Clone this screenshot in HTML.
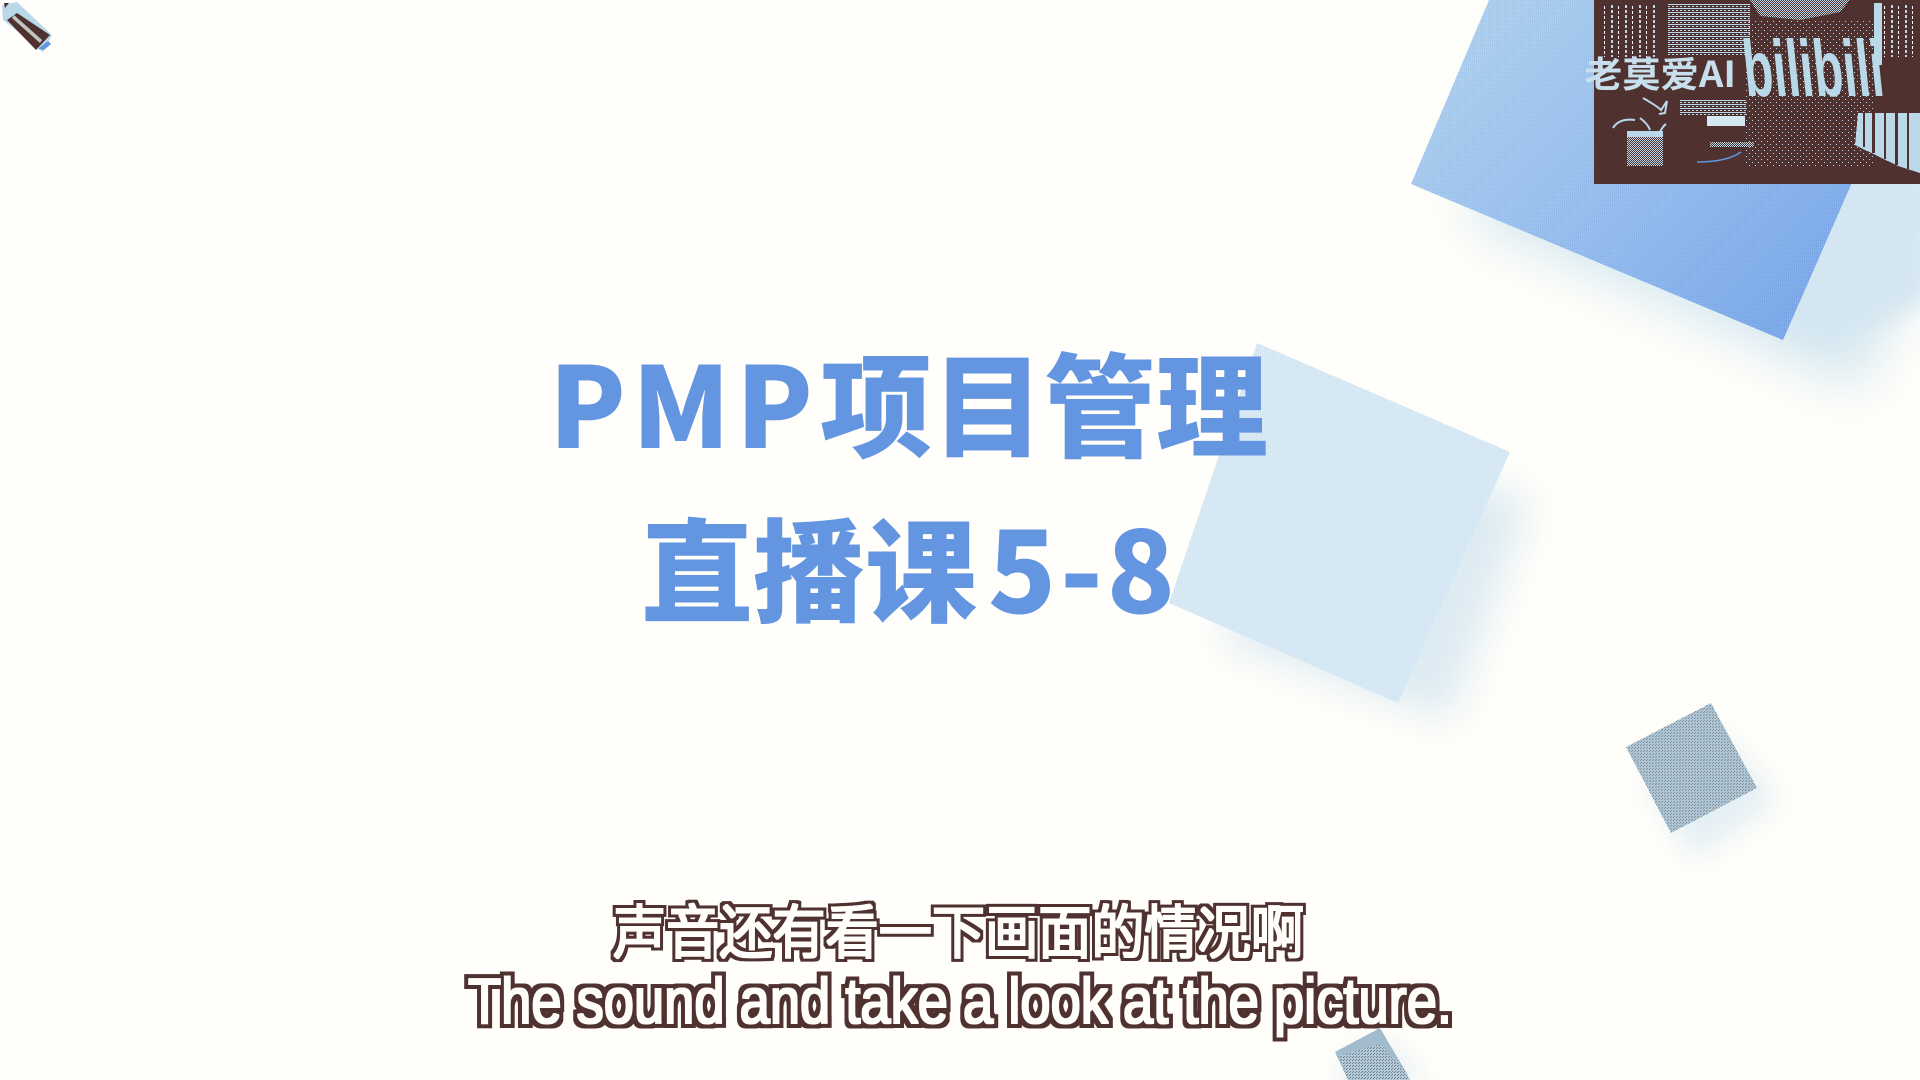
<!DOCTYPE html>
<html lang="zh">
<head>
<meta charset="utf-8">
<title>PMP项目管理 直播课5-8</title>
<style>
html,body{margin:0;padding:0;width:1920px;height:1080px;overflow:hidden;background:#fffefa}
svg{display:block}
.title-cjk{font-family:"Noto Sans CJK SC","Liberation Sans",sans-serif;font-weight:900;fill:#6495e0}
.sub{fill:#fffefa}
</style>
</head>
<body>
<svg width="1920" height="1080" viewBox="0 0 1920 1080" shape-rendering="crispEdges">
<defs>
  <pattern id="p-light" width="2" height="2" patternUnits="userSpaceOnUse">
    <rect x="0" y="0" width="1" height="2" fill="#b9d8e8"/>
  </pattern>
  <pattern id="p-check" width="2" height="2" patternUnits="userSpaceOnUse">
    <rect x="0" y="0" width="1" height="1" fill="#6495e0"/>
    <rect x="1" y="1" width="1" height="1" fill="#b9d8e8"/>
  </pattern>
  <pattern id="p-dark" width="3" height="3" patternUnits="userSpaceOnUse">
    <rect width="3" height="3" fill="#b9d8e8"/>
    <rect x="0" y="0" width="1" height="1" fill="#4f3230"/>
    <rect x="2" y="1" width="1" height="1" fill="#4f3230"/>
  </pattern>
  <pattern id="d50" width="2" height="2" patternUnits="userSpaceOnUse">
    <rect x="0" y="0" width="1" height="1" fill="#b9d8e8"/>
    <rect x="1" y="1" width="1" height="1" fill="#b9d8e8"/>
  </pattern>
  <pattern id="d10" width="6" height="6" patternUnits="userSpaceOnUse">
    <rect x="0" y="0" width="1" height="1" fill="#b9d8e8"/>
    <rect x="3" y="3" width="1" height="1" fill="#b9d8e8"/>
  </pattern>
  <pattern id="hstripe" width="4" height="4" patternUnits="userSpaceOnUse">
    <rect x="0" y="0" width="4" height="1" fill="#b9d8e8"/>
    <rect x="0" y="2" width="2" height="1" fill="#b9d8e8"/>
  </pattern>
  <pattern id="vstripe" width="14" height="5" patternUnits="userSpaceOnUse">
    <rect x="1" y="0" width="2" height="3" fill="#b9d8e8"/>
    <rect x="8" y="1" width="1" height="3" fill="#ffffff"/>
  </pattern>
  <linearGradient id="big-grad" gradientUnits="userSpaceOnUse" x1="1480" y1="40" x2="1790" y2="340">
    <stop offset="0" stop-color="#b0d0ea"/>
    <stop offset="0.5" stop-color="#96bdea"/>
    <stop offset="1" stop-color="#79a6e6"/>
  </linearGradient>
  <filter id="blur-big" x="-40%" y="-40%" width="180%" height="180%"><feGaussianBlur stdDeviation="26"/></filter>
  <filter id="blur-soft" x="-40%" y="-40%" width="180%" height="180%"><feGaussianBlur stdDeviation="12"/></filter>
  <filter id="blur-mid" x="-40%" y="-40%" width="180%" height="180%"><feGaussianBlur stdDeviation="20"/></filter>
  <filter id="blur-small" x="-60%" y="-60%" width="220%" height="220%"><feGaussianBlur stdDeviation="14"/></filter>
  <filter id="outline-en" x="-5%" y="-30%" width="110%" height="160%" color-interpolation-filters="sRGB">
    <feMorphology in="SourceAlpha" operator="dilate" radius="5" result="outer"/>
    <feFlood flood-color="#4f3230" result="brown"/>
    <feComposite in="brown" in2="outer" operator="in" result="ring"/>
    <feMorphology in="SourceAlpha" operator="dilate" radius="1" result="inner"/>
    <feFlood flood-color="#fffefa" result="white"/>
    <feComposite in="white" in2="inner" operator="in" result="core"/>
    <feMerge><feMergeNode in="ring"/><feMergeNode in="core"/></feMerge>
  </filter>
  <filter id="outline-zh" x="-5%" y="-30%" width="110%" height="160%" color-interpolation-filters="sRGB">
    <feMorphology in="SourceAlpha" operator="dilate" radius="4" result="outer"/>
    <feFlood flood-color="#4f3230" result="brown"/>
    <feComposite in="brown" in2="outer" operator="in" result="ring"/>
    <feMorphology in="SourceAlpha" operator="dilate" radius="1" result="inner"/>
    <feFlood flood-color="#fffefa" result="white"/>
    <feComposite in="white" in2="inner" operator="in" result="core"/>
    <feMerge><feMergeNode in="ring"/><feMergeNode in="core"/></feMerge>
  </filter>
</defs>

<rect width="1920" height="1080" fill="#fffefa"/>

<g shape-rendering="geometricPrecision">
  <polygon points="1510,30 1960,180 1860,390 1470,220" fill="#c6e0ee" opacity="0.75" filter="url(#blur-big)"/>
  <polygon points="1320,430 1530,500 1450,720 1220,640" fill="#cfe3ef" opacity="0.7" filter="url(#blur-mid)"/>
  <polygon points="1719,730 1779,800 1694,860 1644,780" fill="#cfe3ef" opacity="0.55" filter="url(#blur-small)"/>
  <polygon points="1385,1040 1430,1080 1345,1090 1340,1060" fill="#cfe3ef" opacity="0.5" filter="url(#blur-small)"/>
  <polygon points="1850,170 1930,170 1930,300 1830,340 1780,335" fill="#d4e6f1" filter="url(#blur-soft)"/>
</g>

<polygon points="1489,0 1411,184 1783,340 1932,0" fill="url(#big-grad)"/>
<polygon points="1489,0 1411,184 1783,340 1932,0" fill="url(#p-check)" opacity="0.25"/>

<polygon points="1257,343 1510,452 1398,703 1169,603" fill="#dcebf3"/>
<polygon points="1257,343 1510,452 1398,703 1169,603" fill="url(#p-light)" opacity="0.3"/>

<polygon points="1711,703 1757,788 1671,833 1626,747" fill="#a6bccd"/>
<polygon points="1711,703 1757,788 1671,833 1626,747" fill="url(#p-dark)" opacity="0.35"/>

<polygon points="1380,1028 1406,1072 1410,1080 1348,1080 1335,1052" fill="#a2bccd"/>
<polygon points="1380,1044 1406,1072 1410,1080 1348,1080 1338,1056" fill="url(#p-dark)" opacity="0.5"/>

<g shape-rendering="geometricPrecision">
  <polygon points="2,5 17,2 52,35 43,52 3,20" fill="#b9d8e8"/>
  <polygon points="17,13 50,35 36,50 7,20" fill="#4f3230"/>
  <polygon points="4,3 9,3 5,8" fill="#4f3230"/>
  <polygon points="14,15 42,40 40,43 12,18" fill="#dfeaea" opacity="0.8"/>
  <polygon points="48,41 51,44 44,50 38,49" fill="#6495e0"/>
</g>

<g>
  <rect x="1594" y="0" width="326" height="184" fill="#4f3230"/>
  <rect x="1600" y="5" width="60" height="52" fill="url(#vstripe)"/>
  <rect x="1668" y="3" width="82" height="52" fill="url(#hstripe)"/>
  <polygon points="1750,0 1850,0 1840,12 1800,20 1760,16" fill="url(#d50)"/>
  <rect x="1745" y="20" width="130" height="148" fill="url(#d10)"/>
  <rect x="1880" y="5" width="38" height="52" fill="url(#vstripe)"/>
  <rect x="1874" y="3" width="8" height="62" fill="#b9d8e8"/>
  <rect x="1680" y="100" width="66" height="15" fill="url(#hstripe)"/>
  <rect x="1627" y="131" width="36" height="35" fill="url(#d50)"/>
  <rect x="1627" y="131" width="36" height="6" fill="#b9d8e8"/>
  <g fill="none" stroke="#b9d8e8" stroke-width="2" shape-rendering="geometricPrecision">
    <path d="M1613 128 q6 -10 22 -8"/>
    <path d="M1640 118 q8 6 10 12"/>
    <path d="M1643 98 q14 8 18 12 l6 -9 l-2 12 l-6 1"/>
    <path d="M1660 132 q3 -6 6 -8"/>
  </g>
  <rect x="1707" y="116" width="38" height="10" fill="#d5e7f0"/>
  <rect x="1710" y="142" width="44" height="5" fill="url(#d50)"/>
  <path d="M1697 162 q30 0 44 -10" fill="none" stroke="#6495e0" stroke-width="1.5" shape-rendering="geometricPrecision"/>
  <polygon points="1858,113 1920,113 1920,173 1898,166 1855,145" fill="#b9d8e8"/>
  <g fill="#4f3230">
    <rect x="1863" y="113" width="2" height="34"/>
    <rect x="1872" y="113" width="3" height="40"/>
    <rect x="1884" y="113" width="2" height="46"/>
    <rect x="1895" y="113" width="3" height="52"/>
    <rect x="1907" y="113" width="2" height="56"/>
  </g>
  <text x="1584" y="87" font-family="'Noto Sans CJK SC','Liberation Sans',sans-serif" font-size="36" font-weight="700" fill="#c7dfec" textLength="152" lengthAdjust="spacingAndGlyphs">老莫爱AI</text>
  <text transform="translate(1746,96) skewX(6)" font-family="'Liberation Sans',sans-serif" font-size="80" font-weight="700" fill="#b9d8e8" textLength="140" lengthAdjust="spacingAndGlyphs">bilibili</text>
</g>

<g shape-rendering="geometricPrecision">
  <text class="title-cjk" x="549" y="448" font-size="112" textLength="264" lengthAdjust="spacing">PMP</text>
  <text class="title-cjk" x="820" y="448" font-size="112">项目管理</text>
  <text class="title-cjk" x="641" y="613" font-size="112">直播课</text>
  <text class="title-cjk" x="988" y="613" font-size="112" textLength="187" lengthAdjust="spacing">5-8</text>
</g>

<g shape-rendering="geometricPrecision">
  <text class="sub" x="613" y="953" filter="url(#outline-zh)" font-family="'Noto Sans CJK SC','Liberation Sans',sans-serif" font-size="58" font-weight="400" textLength="691" lengthAdjust="spacingAndGlyphs">声音还有看一下画面的情况啊</text>
  <text class="sub" x="468" y="1023" filter="url(#outline-en)" font-family="'Liberation Sans','Noto Sans CJK SC',sans-serif" font-size="64" font-weight="400" textLength="984" lengthAdjust="spacingAndGlyphs">The sound and take a look at the picture.</text>
</g>
</svg>
</body>
</html>
